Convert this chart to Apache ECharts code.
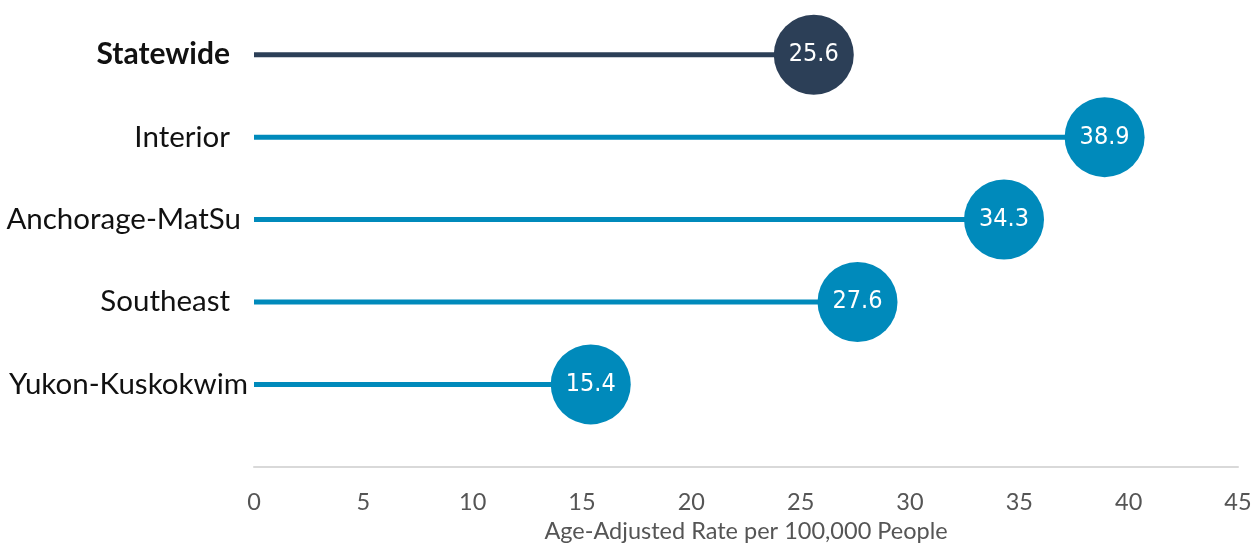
<!DOCTYPE html>
<html><head><meta charset="utf-8">
<script src="https://cdn.jsdelivr.net/npm/echarts@6/dist/echarts.min.js"></script>
<style>html,body{margin:0;padding:0;background:#fff}#c{width:1256px;height:548px}</style>
</head><body><div id="c"></div>
<script>
const categories = ['Statewide', 'Interior', 'Anchorage-MatSu', 'Southeast', 'Yukon-Kuskokwim'];
const values = [25.6, 38.9, 34.3, 27.6, 15.4];
const xTicks = { min: 0, max: 45, interval: 5 };
const axisTitle = 'Age-Adjusted Rate per 100,000 People';
const highlight = 'Statewide';

const DARK = '#2c3f57', BLUE = '#008abb';
const labelPad = { 'Statewide': 18, 'Interior': 18, 'Anchorage-MatSu': 7, 'Southeast': 18, 'Yukon-Kuskokwim': 0 };
const colorOf = name => name === highlight ? DARK : BLUE;

const chart = echarts.init(document.getElementById('c'));
chart.setOption({
  animation: false,
  grid: { left: 254, right: 18, top: 13.5, bottom: 119.5, containLabel: false },
  xAxis: {
    type: 'value', min: xTicks.min, max: xTicks.max, interval: xTicks.interval,
    offset: 41.5,
    axisLine: { show: true, lineStyle: { color: '#d9d9d9', width: 2 } },
    axisTick: { show: false },
    splitLine: { show: false },
    axisLabel: { color: '#555', fontSize: 23.5, fontFamily: 'Lato', margin: 23 },
    name: axisTitle, nameLocation: 'middle', nameGap: 51,
    nameTextStyle: { color: '#555', fontSize: 23.5, fontFamily: 'Lato' }
  },
  yAxis: {
    type: 'category', data: categories, inverse: true,
    axisLine: { show: false }, axisTick: { show: false },
    axisLabel: {
      margin: 6,
      formatter: (v) => (v === highlight ? '{b|' + v + '}' : '{n|' + v + '}') + '{p' + (labelPad[v] || 0) + '|}',
      rich: Object.assign({
        b: { fontSize: 30, fontWeight: 'bold', color: '#111', fontFamily: 'Lato' },
        n: { fontSize: 29.5, color: '#111', fontFamily: 'Lato' }
      }, Object.fromEntries(Object.values(labelPad).map(p => ['p' + p, { width: p }])))
    }
  },
  series: [
    {
      type: 'bar', barWidth: 5, silent: true,
      data: values.map((v, i) => ({ value: v, itemStyle: { color: colorOf(categories[i]) } }))
    },
    {
      type: 'scatter', symbol: 'circle', symbolSize: 80, silent: true,
      data: values.map((v, i) => ({ value: v, itemStyle: { color: colorOf(categories[i]), opacity: 1 } })),
      label: {
        show: true, position: 'inside', color: '#fff', fontSize: 25,
        fontFamily: '"DejaVu Sans Condensed", Lato, sans-serif',
        formatter: p => p.value.toFixed(1)
      }
    }
  ]
});
</script></body></html>
